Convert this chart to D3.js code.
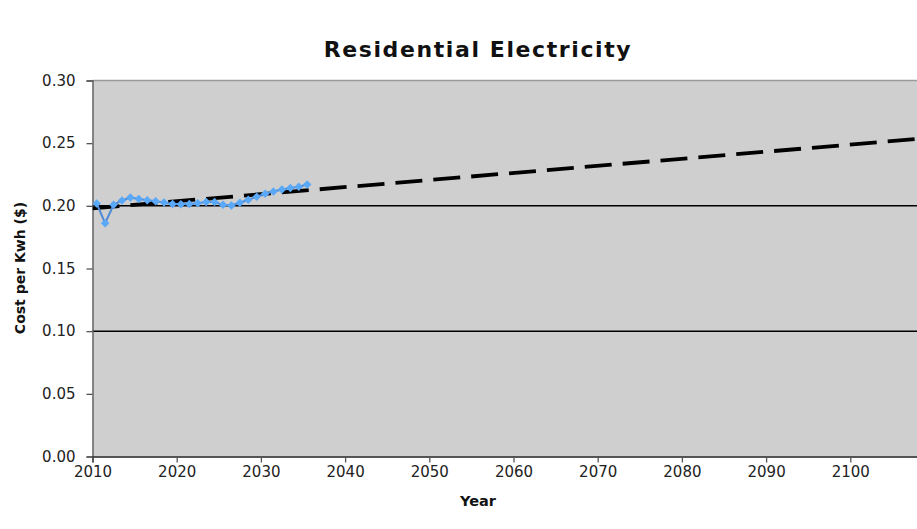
<!DOCTYPE html>
<html>
<head>
<meta charset="utf-8">
<script src="https://cdn.jsdelivr.net/npm/d3@7"></script>
<style>
  html, body { margin: 0; padding: 0; background: #ffffff; }
  svg { display: block; }
</style>
</head>
<body>
<svg id="chart" width="917" height="529"></svg>
<script>
// ---- data ----
const years = [2010, 2011, 2012, 2013, 2014, 2015, 2016, 2017, 2018, 2019, 2020, 2021, 2022,
               2023, 2024, 2025, 2026, 2027, 2028, 2029, 2030, 2031, 2032, 2033, 2034, 2035];
const costs = [0.2018, 0.1861, 0.2008, 0.2043, 0.2066, 0.2055, 0.2045, 0.2037, 0.2027, 0.2015,
               0.2012, 0.2014, 0.2020, 0.2030, 0.2030, 0.2008, 0.2003, 0.2025, 0.2048, 0.2072,
               0.2096, 0.2115, 0.2130, 0.2143, 0.2153, 0.2170];
const trendYears = [2010, 2110];
const trendCosts = [0.1980, 0.2545];
const yTicks = [0.00, 0.05, 0.10, 0.15, 0.20, 0.25, 0.30];
const xTicks = [2010, 2020, 2030, 2040, 2050, 2060, 2070, 2080, 2090, 2100];
const gridValues = [0.10, 0.20];
const titleText = "Residential Electricity";
const xLabel = "Year";
const yLabel = "Cost per Kwh ($)";

// ---- layout ----
const W = 917, H = 529;
const plotLeft = 92.5, plotTop = 80.5, plotBottom = 456.5;
const pxPerYear = 8.42;

const x = d3.scaleLinear().domain([2010, 2110]).range([plotLeft, plotLeft + 100 * pxPerYear]);
const y = d3.scaleLinear().domain([0, 0.30]).range([plotBottom, plotTop]);

const svg = d3.select("#chart");
const font = "'DejaVu Sans', Verdana, sans-serif";

svg.append("defs").append("clipPath").attr("id", "plotClip")
  .append("rect").attr("x", plotLeft).attr("y", plotTop)
  .attr("width", W - plotLeft).attr("height", plotBottom - plotTop);

// plot background
svg.append("rect")
  .attr("x", plotLeft).attr("y", plotTop)
  .attr("width", W - plotLeft).attr("height", plotBottom - plotTop)
  .attr("fill", "#cfcfcf");

// top border
svg.append("line")
  .attr("x1", plotLeft).attr("x2", W)
  .attr("y1", plotTop).attr("y2", plotTop)
  .attr("stroke", "#9a9a9a").attr("stroke-width", 1.5);

// gridlines
svg.append("g").selectAll("line").data(gridValues).join("line")
  .attr("x1", plotLeft).attr("x2", W)
  .attr("y1", d => y(d)).attr("y2", d => y(d))
  .attr("stroke", "#000").attr("stroke-width", 1.5);

// axes
const yAxis = d3.axisLeft(y).tickValues(yTicks).tickFormat(d3.format(".2f")).tickSize(6).tickPadding(11);
const gy = svg.append("g").attr("transform", `translate(${plotLeft},0)`).call(yAxis);
gy.select(".domain").attr("stroke", "#555").attr("stroke-width", 1.3);
gy.selectAll(".tick line").attr("stroke", "#555").attr("stroke-width", 1.3);
gy.selectAll("text").attr("font-family", font).attr("font-size", 15).attr("fill", "#222");

const xAxis = d3.axisBottom(x).tickValues(xTicks).tickFormat(d3.format("d")).tickSize(6).tickPadding(4);
const gx = svg.append("g").attr("transform", `translate(0,${plotBottom})`).call(xAxis);
gx.select(".domain").attr("stroke", "#222").attr("stroke-width", 1.4);
gx.selectAll(".tick line").attr("stroke", "#555").attr("stroke-width", 1.3);
gx.selectAll("text").attr("font-family", font).attr("font-size", 15).attr("fill", "#222");

const plot = svg.append("g").attr("clip-path", "url(#plotClip)");

// trendline (dashed)
const trend = trendYears.map((yr, i) => [yr, trendCosts[i]]);
plot.append("path")
  .datum(trend)
  .attr("d", d3.line().x(d => x(d[0])).y(d => y(d[1])))
  .attr("fill", "none").attr("stroke", "#000")
  .attr("stroke-width", 3.8).attr("stroke-dasharray", "27,11");

// series (plotted at mid-year)
const series = years.map((yr, i) => [yr + 0.5, costs[i]]);
plot.append("path")
  .datum(series)
  .attr("d", d3.line().x(d => x(d[0])).y(d => y(d[1])))
  .attr("fill", "none").attr("stroke", "#4f8ad6").attr("stroke-width", 2);

const diamond = d3.symbol().type(d3.symbolSquare).size(36);
plot.append("g").selectAll("path").data(series).join("path")
  .attr("d", diamond)
  .attr("transform", d => `translate(${x(d[0])},${y(d[1])}) rotate(45)`)
  .attr("fill", "#5aa8f8");

// titles
svg.append("text").attr("x", 478).attr("y", 57)
  .attr("text-anchor", "middle").attr("font-family", font)
  .attr("font-weight", "bold").attr("font-size", 22).attr("letter-spacing", 1.6).attr("fill", "#111")
  .text(titleText);

svg.append("text").attr("x", 478).attr("y", 506)
  .attr("text-anchor", "middle").attr("font-family", font)
  .attr("font-weight", "bold").attr("font-size", 14.5).attr("fill", "#111")
  .text(xLabel);

svg.append("text")
  .attr("transform", `translate(25,268) rotate(-90)`)
  .attr("text-anchor", "middle").attr("font-family", font)
  .attr("font-weight", "bold").attr("font-size", 14).attr("fill", "#111")
  .text(yLabel);
</script>
</body>
</html>
